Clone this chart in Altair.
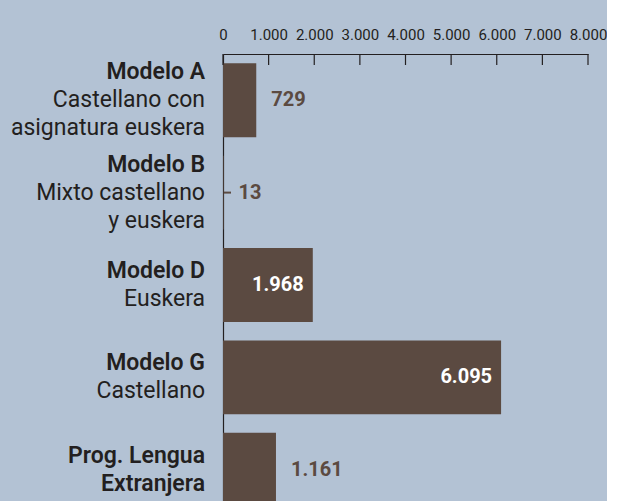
import altair as alt
import pandas as pd

categories = ["Modelo A", "Modelo B", "Modelo D", "Modelo G", "Prog. Lengua Extranjera"]
bold_lines = [["Modelo A"], ["Modelo B"], ["Modelo D"], ["Modelo G"], ["Prog. Lengua", "Extranjera"]]
normal_lines = [["Castellano con", "asignatura euskera"], ["Mixto castellano", "y euskera"],
                ["Euskera"], ["Castellano"], []]
values = [729, 13, 1968, 6095, 1161]
tick_values = [0, 1000, 2000, 3000, 4000, 5000, 6000, 7000, 8000]

BG = "#b3c2d4"
BAR = "#5b4a41"
TXT = "#231f20"
FONT = "Roboto"
LINE_H = 28

df = pd.DataFrame({
    "cat": categories,
    "value": values,
    "label": [f"{v:,}".replace(",", ".") for v in values],
})

rows = []
for cat, bl, nl in zip(categories, bold_lines, normal_lines):
    lines = [(t, "bold") for t in bl] + [(t, "normal") for t in nl]
    n = len(lines)
    for i, (t, w) in enumerate(lines):
        rows.append({"cat": cat, "text": t, "weight": w, "off": (i - (n - 1) / 2) * LINE_H})
lines_df = pd.DataFrame(rows)
ticks_df = pd.DataFrame({"t": tick_values})

yscale = alt.Scale(domain=categories, range=[0, 462], paddingInner=0.2, paddingOuter=0.1)
xscale = alt.Scale(domain=[0, 8000], nice=False)

xaxis = alt.Axis(
    orient="top", values=tick_values, ticks=False, domain=True, domainColor=TXT,
    domainWidth=1.2, grid=False, title="", labelFont=FONT, labelFontSize=15,
    labelColor=TXT, labelPadding=12, labelOverlap=False, labelFlush=False,
    labelBound=False,
    labelExpr="replace(format(datum.value, ','), ',', '.')")
yaxis = alt.Axis(labels=False, ticks=False, domain=True, domainColor=TXT, domainWidth=1.2,
                 title="", grid=False)


def X(field):
    return alt.X(field, scale=xscale, axis=xaxis)


def Y():
    return alt.Y("cat:N", sort=categories, scale=yscale, axis=yaxis)


bars = alt.Chart(df).mark_bar(color=BAR).encode(x=X("value:Q"), y=Y())

tick_rules = alt.Chart(ticks_df).mark_rule(color=TXT, strokeWidth=1.2).encode(
    x=X("t:Q"), y=alt.value(0), y2=alt.value(11),
)

small = alt.Chart(df).transform_filter("datum.value < 100").mark_rule(
    color=BAR, strokeWidth=2).encode(
    x=alt.value(1), x2=alt.value(8), y=Y(),
)

label_layers = []
for (off, w) in sorted(set(zip(lines_df["off"], lines_df["weight"]))):
    label_layers.append(
        alt.Chart(lines_df).transform_filter(
            f"datum.off == {off} && datum.weight == '{w}'"
        ).mark_text(align="right", baseline="middle", font=FONT, fontSize=23,
                    fontWeight=(600 if w == "bold" else 400), color=TXT,
                    dy=off, dx=-18).encode(
            x=alt.value(0), y=Y(), text="text:N",
        )
    )

val_out = alt.Chart(df).transform_filter("datum.value < 1500").mark_text(
    align="left", baseline="middle", font=FONT, fontSize=20, fontWeight="bold",
    color=BAR, dx=15).encode(x=X("value:Q"), y=Y(), text="label:N")
val_in = alt.Chart(df).transform_filter("datum.value >= 1500").mark_text(
    align="right", baseline="middle", font=FONT, fontSize=20, fontWeight="bold",
    color="white", dx=-9).encode(x=X("value:Q"), y=Y(), text="label:N")

chart = alt.layer(bars, tick_rules, small, *label_layers, val_out, val_in).properties(
    width=365, height=447,
    background=BG,
    padding={"left": 223, "top": 54, "right": 19, "bottom": 0},
    autosize=alt.AutoSizeParams(type="none"),
).configure_view(stroke=None)

chart.save("out.html", embed_options={"renderer": "svg", "actions": False})
